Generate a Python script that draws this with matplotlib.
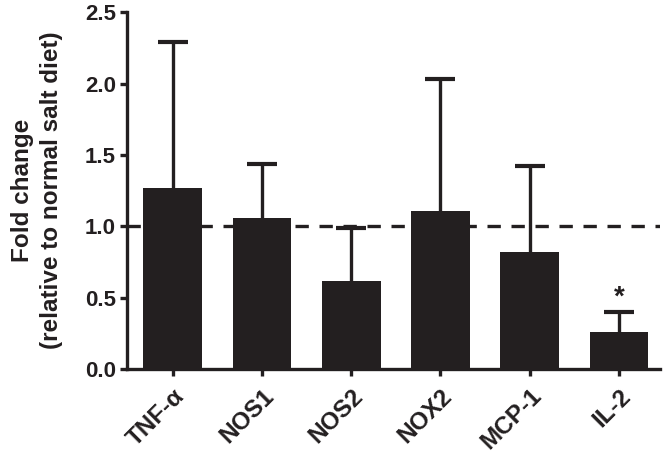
import matplotlib.pyplot as plt

# fold change values
genes = ["TNF-\u03b1", "NOS1", "NOS2", "NOX2", "MCP-1", "IL-2"]
means = [1.27, 1.06, 0.62, 1.11, 0.82, 0.26]
upper = [2.29, 1.44, 0.99, 2.03, 1.42, 0.40]
signif = ["", "", "", "", "", "*"]

ink = "#231f20"


def main():
	plt.rcParams['font.family'] = ['Liberation Sans', 'DejaVu Sans']
	plt.rcParams['font.weight'] = 'bold'

	fig = plt.figure(figsize=(6.66, 4.65), dpi=100)
	ax = fig.add_axes([0.191, 0.206, 0.800, 0.768])

	x = list(range(len(genes)))
	err = [u - m for u, m in zip(upper, means)]

	ax.axhline(1.0, color=ink, lw=2.4, dashes=(4, 3.2), zorder=1)
	ax.bar(x, means, width=0.66, color=ink, zorder=2)
	_, caps, _ = ax.errorbar(x, means, yerr=[[0] * len(err), err], fmt="none",
		ecolor=ink, elinewidth=2.4, capsize=11, capthick=3, zorder=3)
	# only the upper cap is wanted
	caps[0].set_visible(False)

	for xi, u, s in zip(x, upper, signif):
		if s:
			ax.text(xi, u + 0.01, s, ha="center", va="bottom", fontsize=20,
				fontweight="bold", color=ink)

	ax.set_xlim(-0.51, 5.46)
	ax.set_ylim(0, 2.5)
	ax.set_yticks([0, 0.5, 1.0, 1.5, 2.0, 2.5])
	ax.set_yticklabels(["0.0", "0.5", "1.0", "1.5", "2.0", "2.5"])
	ax.set_xticks(x)
	ax.set_xticklabels(genes, rotation=45, ha="right", rotation_mode="anchor")

	for side in ["top", "right"]:
		ax.spines[side].set_visible(False)
	for side in ["left", "bottom"]:
		ax.spines[side].set_linewidth(2.4)
		ax.spines[side].set_color(ink)
	ax.tick_params(axis="both", width=2.4, length=5, color=ink, labelcolor=ink)
	ax.tick_params(axis="y", labelsize=16, pad=3)
	ax.tick_params(axis="x", labelsize=17.5, pad=6)

	ax.set_ylabel("Fold change\n(relative to normal salt diet)", fontsize=17.5,
		fontweight="bold", color=ink, linespacing=1.35, labelpad=16)

	fig.savefig("out.png", dpi=100)


if __name__ == "__main__":
	main()
